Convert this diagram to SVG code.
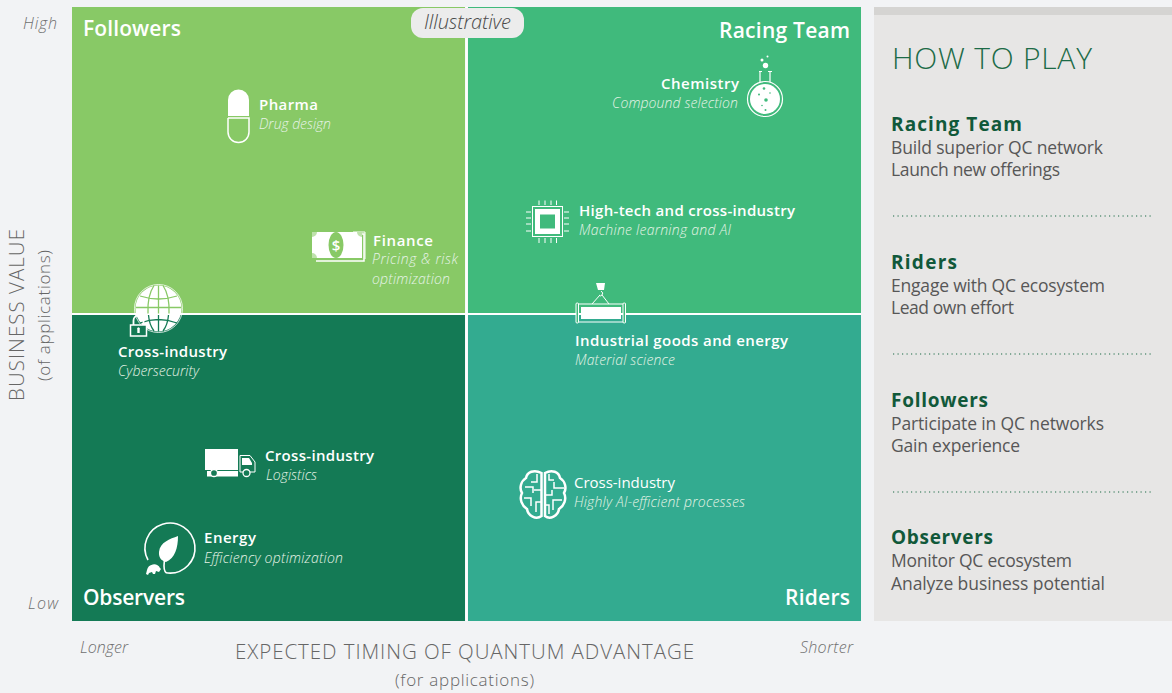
<svg xmlns="http://www.w3.org/2000/svg" width="1172" height="693" viewBox="0 0 1172 693">
<style>
text{font-family:"Open Sans","Noto Sans","Liberation Sans",sans-serif;fill:#fff}
.h{font-weight:600;font-size:15px}
.r{font-weight:400;font-size:15px}
.s{font-style:italic;font-weight:300;font-size:14px;fill:#e6f3e6}
.q{font-weight:600;font-size:21px}
.ax{font-style:italic;font-weight:300;font-size:16px;fill:#6f6f6f}
.at{font-size:20.500px;fill:#666;font-weight:300}
.as{font-size:17px;fill:#666;font-weight:300}
.ph{font-weight:700;font-size:19px;fill:#11593a}
.pt{font-size:17.500px;fill:#575757;font-weight:400}
.dot{stroke:#1c6b47;stroke-width:1.200;stroke-dasharray:1.200 3.300;fill:none}
.w{fill:#fff}.o{fill:none;stroke:#fff;stroke-width:1.500}
</style>
<rect width="1172" height="693" fill="#f2f3f5"/>
<g id="quadrants">
<rect x="72" y="7" width="393" height="306" fill="#88c966"/>
<rect x="468" y="7" width="393" height="306" fill="#40ba7c"/>
<rect x="72" y="315" width="393" height="306" fill="#147a55"/>
<rect x="468" y="315" width="393" height="306" fill="#33ab90"/>
<text class="q" x="83" y="36" textLength="98">Followers</text>
<text class="q" x="850" y="38" text-anchor="end" textLength="131">Racing Team</text>
<text class="q" x="83" y="605" textLength="102">Observers</text>
<text class="q" x="850" y="605" text-anchor="end" textLength="65">Riders</text>
</g>
<g id="grid-lines">
<path d="M72 314H861M466.500 7V621" stroke="#fff" stroke-width="2.200" fill="none"/>
</g>
<g id="illustrative">
<rect x="411" y="8" width="113" height="30" rx="12" fill="#ececec"/>
<text x="424" y="29" textLength="87" style="font-style:italic;font-weight:300;font-size:20px;fill:#4a4a4a">Illustrative</text>
</g>
<g id="axes">
<text class="ax" x="23" y="29" textLength="34">High</text>
<text class="ax" x="28" y="609" textLength="30">Low</text>
<text class="ax" x="80" y="653" textLength="48">Longer</text>
<text class="ax" x="800" y="653" textLength="53">Shorter</text>
<text class="at" x="235" y="659" textLength="459">EXPECTED TIMING OF QUANTUM ADVANTAGE</text>
<text class="as" x="395" y="686" textLength="139">(for applications)</text>
<text class="at" transform="translate(24 401) rotate(-90)" textLength="172">BUSINESS VALUE</text>
<text class="as" transform="translate(50 381) rotate(-90)" textLength="131">(of applications)</text>
</g>
<g id="pharma">
<path class="w" d="M228 116V100a10.500 10.500 0 0 1 21 0V116Z"/>
<path class="o" d="M228 118V132a10.500 10.500 0 0 0 21 0V118H228"/>
<text class="h" x="259" y="110" textLength="59">Pharma</text>
<text class="s" x="259" y="129" textLength="72">Drug design</text>
</g>
<g id="finance">
<path d="M352 234H364V261H316" class="o" stroke-width="1"/>
<path d="M353 232H365V259" fill="none" stroke="#fff" stroke-width="1"/>
<rect x="312" y="232" width="50" height="26" class="w"/>
<path d="M312 232H317A5 5 0 0 1 312 237ZM362 232H357A5 5 0 0 0 362 237ZM312 258H317A5 5 0 0 0 312 253Z" fill="#88c966" opacity=".55"/>
<ellipse cx="336" cy="245" rx="7.500" ry="13" fill="#88c966"/>
<text x="336" y="251" text-anchor="middle" style="font-size:15px;font-weight:600">$</text>
<text class="h" x="373" y="246" textLength="60">Finance</text>
<text class="s" x="372" y="264" textLength="86">Pricing &amp; risk</text>
<text class="s" x="372" y="284" textLength="78">optimization</text>
</g>
<g id="cybersecurity">
<circle cx="158.500" cy="308.500" r="23" fill="#fff"/>
<circle cx="158.500" cy="308.500" r="24" fill="none" stroke="#fff" stroke-width=".8"/>
<path d="M140 296Q158.500 302 177 296M136 307.500H181" fill="none" stroke="#88c966" stroke-width="1.300"/>
<path d="M158.500 285.500V313.500M154 285.500C149 293 147.500 303 148 313.500M163 285.500C168 293 169.500 303 169 313.500" fill="none" stroke="#88c966" stroke-width="1.300"/>
<path d="M158.500 315V331.500M148.500 315C149 322 151 327 154 331M168.500 315C168 322 166 327 163 331M140 323Q158.500 316 177 323" fill="none" stroke="#147a55" stroke-width="1.300"/>
<path d="M133.500 325V320.500a5 5 0 0 1 10 0V325" fill="none" stroke="#fff" stroke-width="1.800"/>
<rect x="130.500" y="325" width="16" height="11" fill="#147a55" stroke="#fff" stroke-width="1.500"/>
<path class="w" d="M137.300 331.500V329.500a1.400 1.400 0 1 1 2.400 0V333h-2.400Z"/>
<text class="h" x="118" y="357" textLength="109">Cross-industry</text>
<text class="s" x="118" y="376" textLength="81">Cybersecurity</text>
</g>
<g id="logistics">
<rect x="205" y="449" width="33" height="21" class="w"/>
<rect x="207" y="471" width="31" height="5.500" class="w"/>
<path d="M240 455.500H250L255 462V472H240Z" fill="#147a55" stroke="#fff" stroke-width="1"/>
<path class="w" d="M242 458H249L252 463V465H242Z"/>
<circle cx="214" cy="473" r="3.500" fill="#147a55" stroke="#fff" stroke-width="1.300"/>
<circle cx="246.500" cy="473" r="3.500" fill="#147a55" stroke="#fff" stroke-width="1.300"/>
<text class="h" x="265" y="461" textLength="109">Cross-industry</text>
<text class="s" x="266" y="480" textLength="51">Logistics</text>
</g>
<g id="energy">
<path d="M148 560A25 25 0 1 1 168 573C162 573 164 560 166 553" fill="none" stroke="#fff" stroke-width="1.600"/>
<path class="w" d="M178 536C170 539 160 542 159 552C158.500 558 162 561 166 562C175 558 178 548 178 536Z"/>
<path class="w" d="M146 574l1 -4a7 7 0 0 1 13 -2l1 1l-2 3l-3 -1l-1 3h-2l-1 -2l-3 1l-1 2Z"/>
<text class="h" x="204" y="543" textLength="52">Energy</text>
<text class="s" x="204" y="563" textLength="139">Efficiency optimization</text>
</g>
<g id="chemistry">
<circle cx="765" cy="99" r="17.500" fill="none" stroke="#fff" stroke-width="1.200"/>
<circle cx="765" cy="99" r="15" class="w"/>
<path d="M760 82V71.500M770 82V71.500M759 71.500H762M768 71.500H772" stroke="#fff" stroke-width="1.200" fill="none"/>
<circle cx="765.500" cy="65.500" r="2.700" class="w"/><circle cx="762" cy="60" r="1.500" class="w"/><circle cx="767.500" cy="56.500" r="1" class="w"/>
<g fill="#40ba7c"><circle cx="764" cy="88.500" r="1.300"/><circle cx="759" cy="94.500" r="1"/><circle cx="770" cy="93" r=".8"/><circle cx="766" cy="100" r="1.800"/><circle cx="762" cy="105.500" r=".8"/><circle cx="765.500" cy="110" r="1"/></g>
<text class="h" x="739" y="89" text-anchor="end" textLength="78">Chemistry</text>
<text class="s" x="738" y="108" text-anchor="end" textLength="126">Compound selection</text>
</g>
<g id="hightech">
<rect x="532.500" y="206.500" width="30" height="30" fill="none" stroke="#fff" stroke-width="1"/>
<rect x="535" y="209" width="25" height="25" class="w"/>
<rect x="540" y="214.500" width="15" height="14" fill="#40ba7c"/>
<path d="M539 200.500V205M545 200.500V205M551 200.500V205M556.500 200.500V205M539 238V243M545 238V243M551 238V243M556.500 238V243M526 212H531M526 218H531M526 224H531M526 231H531M564 212H569M564 218H569M564 224H569M564 231H569" stroke="#fff" stroke-width="1" fill="none"/>
<text class="h" x="579" y="216" textLength="216">High-tech and cross-industry</text>
<text class="s" x="579" y="235" textLength="152">Machine learning and AI</text>
</g>
<g id="industrial">
<path class="w" d="M596 283H605L604 290H598Z"/>
<path d="M601 291q3 2 1 4q-2 2 -3 0M600 295L592 304M602 295L609 304" fill="none" stroke="#fff" stroke-width="1"/>
<rect x="577" y="304" width="48" height="18" fill="none" stroke="#fff" stroke-width="1"/>
<rect x="581" y="307" width="40" height="12" class="w"/>
<rect x="576" y="303" width="2.500" height="20" rx="1" fill="#40ba7c" stroke="#fff"/>
<rect x="623" y="303" width="2.500" height="20" rx="1" fill="#40ba7c" stroke="#fff"/>
<text class="h" x="575" y="346" textLength="213">Industrial goods and energy</text>
<text class="s" x="575" y="365" textLength="100">Material science</text>
</g>
<g id="brain">
<path d="M541.500 473C534 469 527 472 526 478C521 481 519 488 522 493C519 499 522 506 527 509C528 516 536 520 541.500 516Z" fill="none" stroke="#fff" stroke-width="2.500"/>
<path d="M545 473C552 469 559 472 560 478C565 481 567 488 564 493C567 499 564 506 559 509C558 516 550 520 545 516Z" fill="none" stroke="#fff" stroke-width="2.500"/>
<path d="M537 474V482H531M525 487H533V493M541 490H534M524 498H531V506M541 502H536V512M549 474V480H554M564 488H554V482M545 495H552V490M562 500H553V510M545 505H549V514" fill="none" stroke="#fff" stroke-width="1.500"/>
<text class="r" x="574" y="488" textLength="101">Cross-industry</text>
<text class="s" x="574" y="507" textLength="171">Highly AI-efficient processes</text>
</g>
<g id="how-to-play">
<rect x="874" y="7" width="298" height="614" fill="#e7e6e5"/>
<rect x="874" y="7" width="298" height="8" fill="#d5d4d2"/>
<text x="892" y="69" textLength="200" style="font-weight:300;font-size:30px;fill:#1c6b47">HOW TO PLAY</text>
<text class="ph" x="891" y="131" textLength="131">Racing Team</text>
<text class="pt" x="891" y="154" textLength="212">Build superior QC network</text>
<text class="pt" x="891" y="176" textLength="169">Launch new offerings</text>
<path class="dot" d="M893 216H1153"/>
<text class="ph" x="891" y="269" textLength="66">Riders</text>
<text class="pt" x="891" y="292" textLength="214">Engage with QC ecosystem</text>
<text class="pt" x="891" y="314" textLength="123">Lead own effort</text>
<path class="dot" d="M893 354H1153"/>
<text class="ph" x="891" y="407" textLength="97">Followers</text>
<text class="pt" x="891" y="430" textLength="213">Participate in QC networks</text>
<text class="pt" x="891" y="452" textLength="129">Gain experience</text>
<path class="dot" d="M893 492H1153"/>
<text class="ph" x="891" y="544" textLength="102">Observers</text>
<text class="pt" x="891" y="567" textLength="181">Monitor QC ecosystem</text>
<text class="pt" x="891" y="590" textLength="214">Analyze business potential</text>
</g>
</svg>
